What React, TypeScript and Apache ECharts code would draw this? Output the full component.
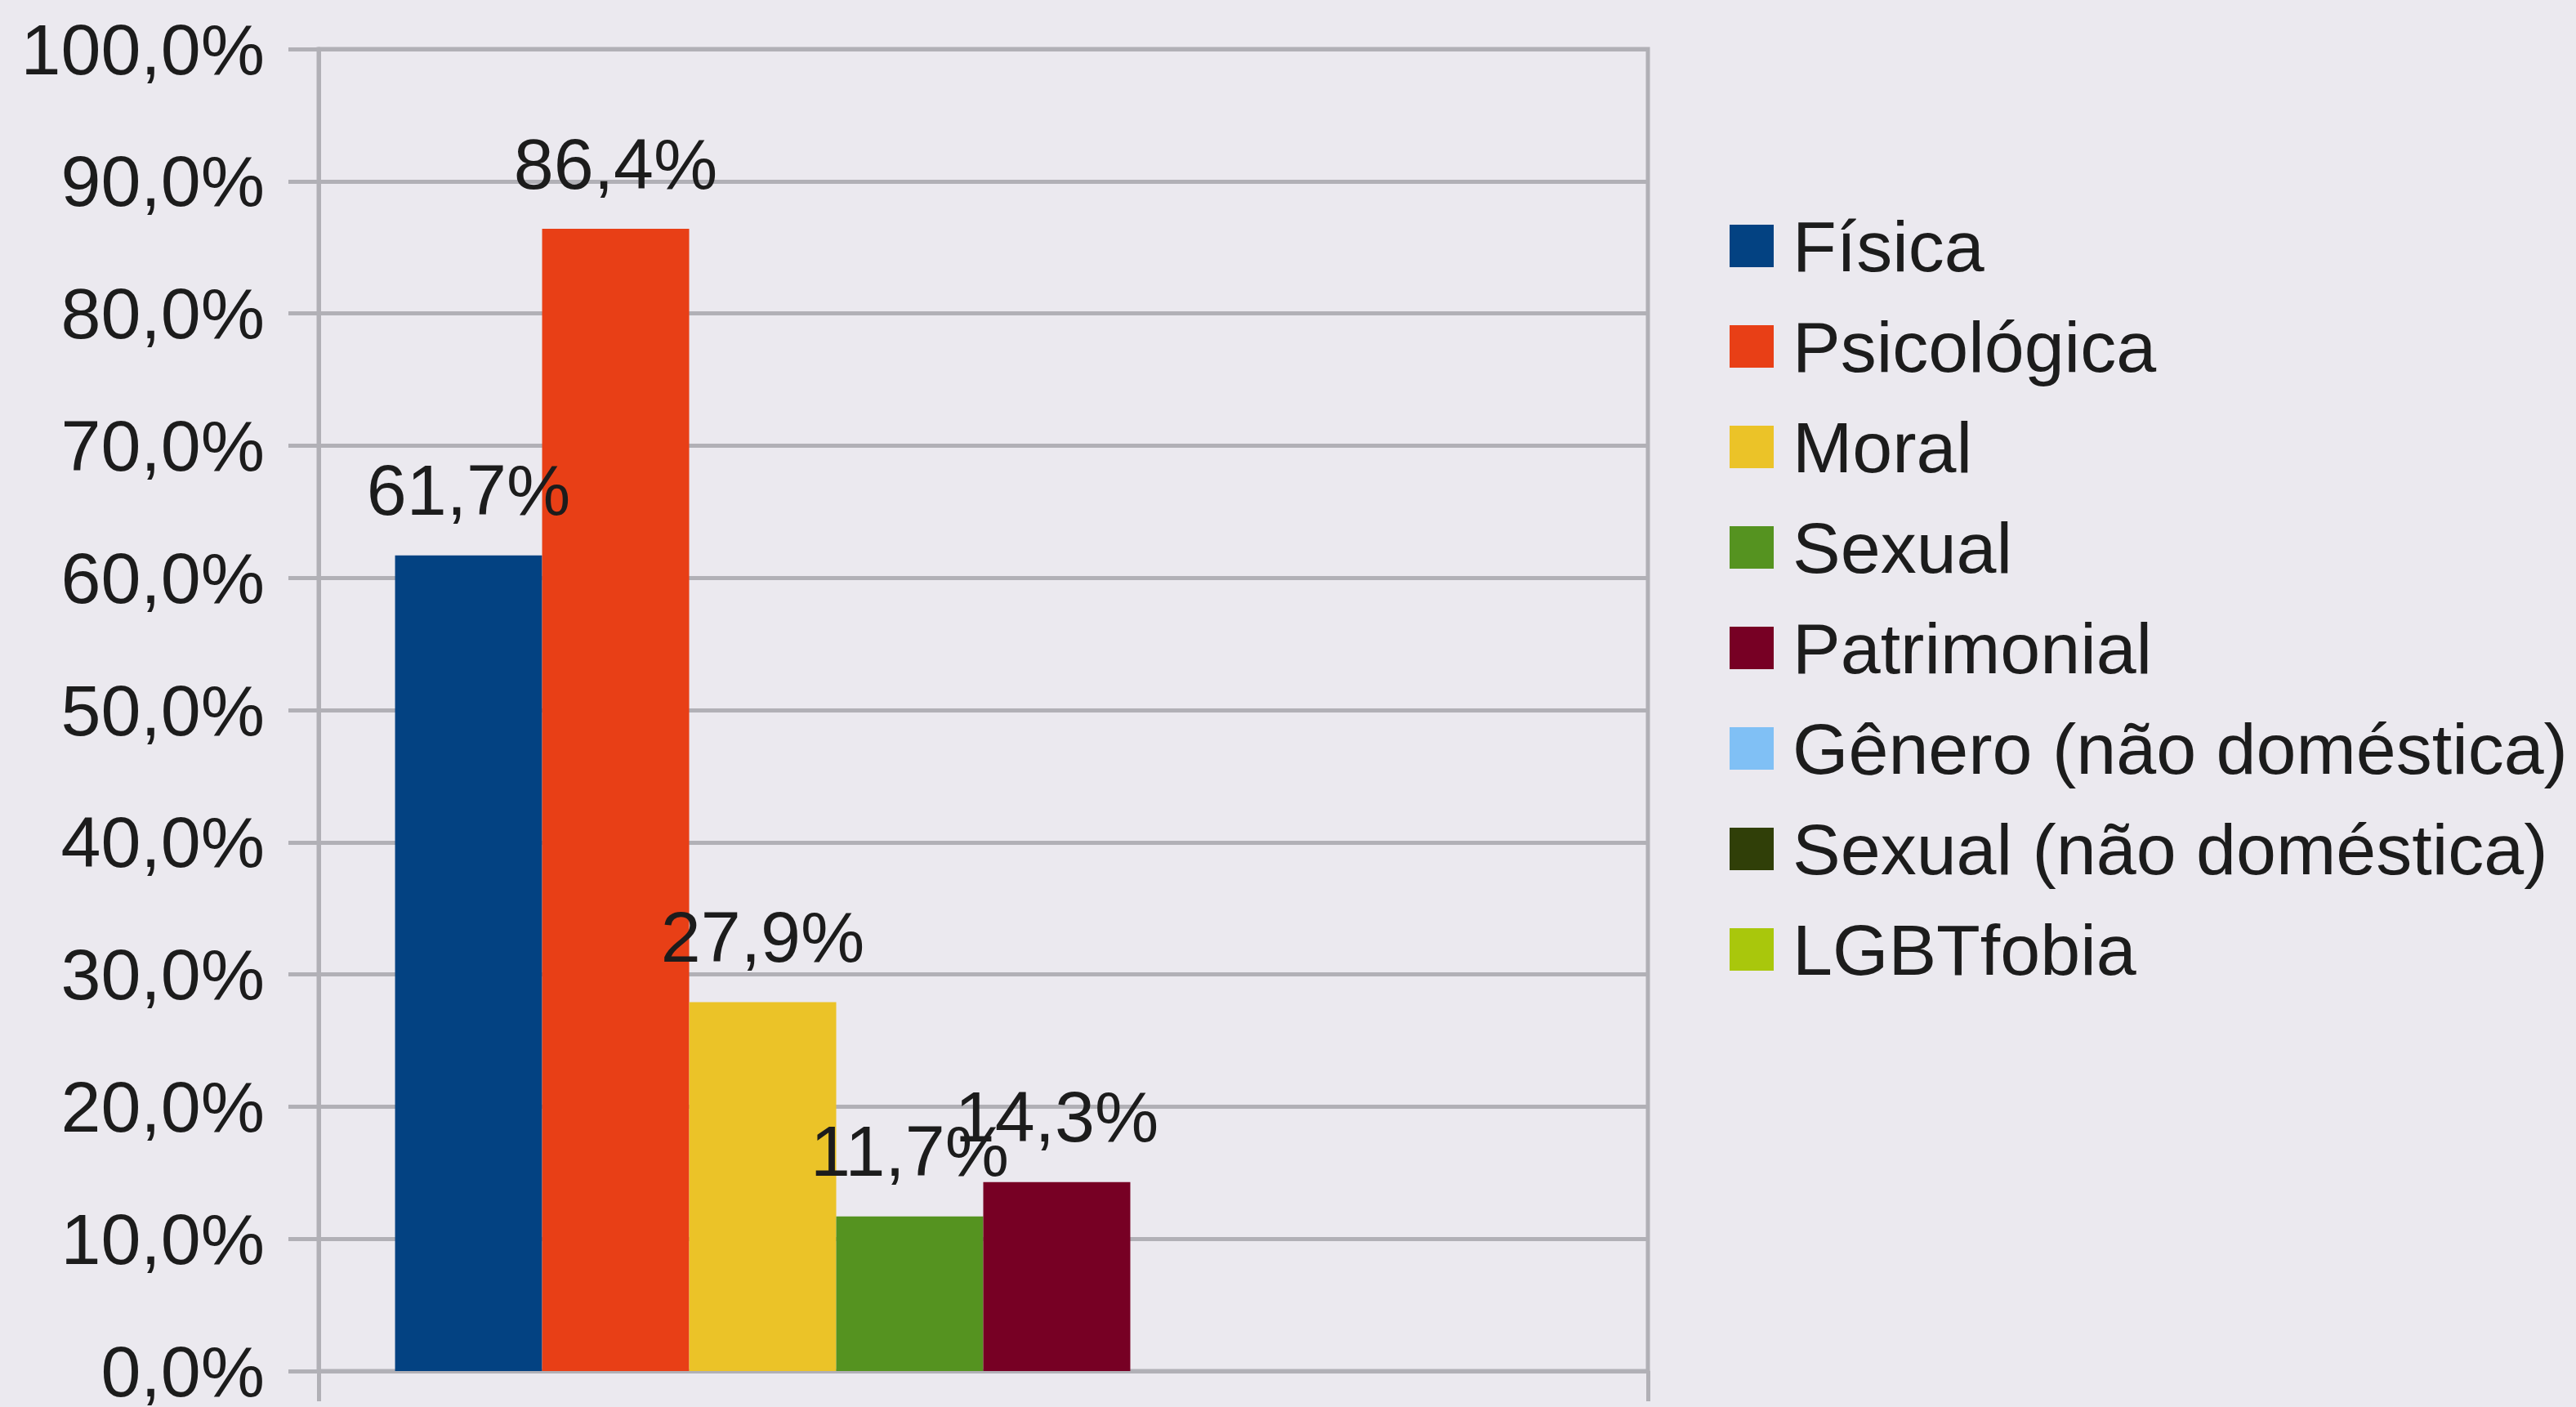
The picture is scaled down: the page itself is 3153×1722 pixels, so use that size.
import React, { useEffect, useRef } from "react";
import * as echarts from "echarts";

const categories = [""];
const seriesNames = [
  "Física",
  "Psicológica",
  "Moral",
  "Sexual",
  "Patrimonial",
  "Gênero (não doméstica)",
  "Sexual (não doméstica)",
  "LGBTfobia",
];
const seriesValues: (number | null)[] = [61.7, 86.4, 27.9, 11.7, 14.3, null, null, null];
const seriesColors = [
  "#034282",
  "#e83f16",
  "#ebc328",
  "#559320",
  "#770024",
  "#80c0f5",
  "#303f08",
  "#a9c70c",
];
const yMin = 0;
const yMax = 100;
const yStep = 10;

const fmt = (v: number) => v.toFixed(1).replace(".", ",") + "%";

export default function App() {
  const ref = useRef<HTMLDivElement>(null);
  useEffect(() => {
    if (!ref.current) return;
    const chart = echarts.init(ref.current, null, { renderer: "svg" });
    const font = "Liberation Sans";
    const textColor = "#1c1c1c";
    const gridColor = "#b1b0b6";
    chart.setOption({
      animation: false,
      backgroundColor: "#ebe9ef",
      textStyle: { fontFamily: font },
      grid: {
        left: 390,
        right: 3153 - 2017,
        top: 60,
        bottom: 1722 - 1687,
        show: true,
        borderColor: gridColor,
        borderWidth: 5,
        backgroundColor: "transparent",
      },
      legend: {
        orient: "vertical",
        left: 2112,
        top: 252,
        icon: "rect",
        itemWidth: 54,
        itemHeight: 52,
        itemGap: 35,
        selectedMode: false,
        textStyle: { fontFamily: font, fontSize: 88, color: textColor, padding: [0, 0, 0, 18] },
        data: seriesNames,
      },
      xAxis: {
        type: "category",
        data: categories,
        axisLine: { show: true, lineStyle: { color: gridColor, width: 5 } },
        axisTick: { show: true, length: 37, lineStyle: { color: gridColor, width: 5 } },
        axisLabel: { show: false },
      },
      yAxis: {
        type: "value",
        min: yMin,
        max: yMax,
        interval: yStep,
        axisLine: { show: true, lineStyle: { color: gridColor, width: 5 } },
        axisTick: { show: true, length: 37, lineStyle: { color: gridColor, width: 5 } },
        axisLabel: {
          margin: 66,
          fontFamily: font,
          fontSize: 88,
          color: textColor,
          formatter: (v: number) => fmt(v),
        },
        splitLine: { show: true, lineStyle: { color: gridColor, width: 5 } },
      },
      series: seriesNames.map((name, i) => ({
        name,
        type: "bar",
        data: [seriesValues[i]],
        barGap: "0%",
        barCategoryGap: "11.5%",
        itemStyle: { color: seriesColors[i] },
        label: {
          show: seriesValues[i] !== null,
          position: "top",
          distance: 36,
          fontFamily: font,
          fontSize: 88,
          color: textColor,
          formatter: (p: any) => fmt(p.value as number),
        },
      })),
    });
    return () => chart.dispose();
  }, []);
  return (
    <div
      ref={ref}
      style={{ position: "fixed", left: 0, top: 0, width: 3153, height: 1722 }}
    />
  );
}
